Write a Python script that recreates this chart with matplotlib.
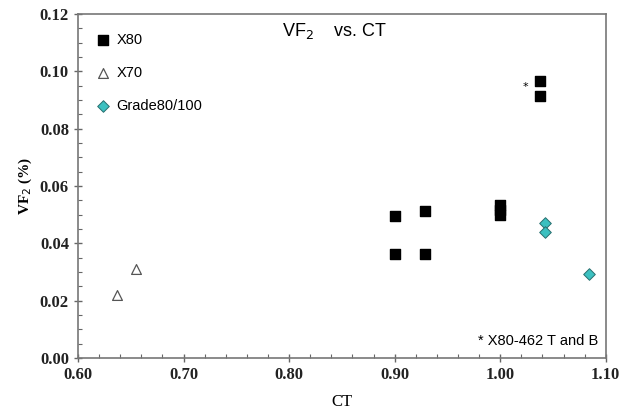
import numpy as np
import matplotlib.pyplot as plt
from matplotlib.ticker import MultipleLocator

# data
x80_ct = [0.90, 0.90, 0.929, 0.929, 1.00, 1.00, 1.00, 1.0375, 1.0375]
x80_vf = [0.0495, 0.0364, 0.0513, 0.0364, 0.0535, 0.0515, 0.0500, 0.0966, 0.0914]
x70_ct = [0.6365, 0.6553]
x70_vf = [0.0220, 0.0309]
g80_ct = [1.042, 1.042, 1.0846]
g80_vf = [0.0472, 0.0441, 0.0292]

fig = plt.figure(figsize=(6.29, 4.12), dpi=100)
ax = fig.add_axes([0.124, 0.131, 0.839, 0.835])

ax.scatter(x80_ct, x80_vf, marker='s', s=55, c='black', label='X80', zorder=3)
ax.scatter(x70_ct, x70_vf, marker='^', s=50, facecolors='white', edgecolors='#555555',
           linewidths=0.9, label='X70', zorder=3)
ax.scatter(g80_ct, g80_vf, marker='D', s=35, c='#3cc0c0', edgecolors='#2a6f6f',
           linewidths=0.7, label='Grade80/100', zorder=3)

ax.set_xlim(0.60, 1.10)
ax.set_ylim(0.0, 0.12)
ax.xaxis.set_major_locator(MultipleLocator(0.1))
ax.xaxis.set_minor_locator(MultipleLocator(0.02))
ax.yaxis.set_major_locator(MultipleLocator(0.02))
ax.yaxis.set_minor_locator(MultipleLocator(0.005))
ax.xaxis.set_major_formatter(plt.FormatStrFormatter('%.2f'))
ax.yaxis.set_major_formatter(plt.FormatStrFormatter('%.2f'))

for s in ax.spines.values():
    s.set_color('#777777')
    s.set_linewidth(1.2)
ax.tick_params(which='major', direction='inout', length=6, color='#666666', width=1)
ax.tick_params(which='minor', direction='in', length=3, color='#666666', width=0.8)
for lab in ax.get_xticklabels() + ax.get_yticklabels():
    lab.set_family('Liberation Serif')
    lab.set_fontweight('bold')
    lab.set_fontsize(12)
    lab.set_color('#222222')

ax.set_xlabel('CT', family='Liberation Serif', fontsize=12, labelpad=8)
ax.set_ylabel('VF$_2$ (%)', family='Liberation Serif', fontweight='bold', fontsize=11)

ax.text(0.487, 0.952, 'VF$_2$    vs. CT', transform=ax.transAxes, fontsize=13,
        family='Liberation Sans', ha='center', va='center')
ax.text(0.985, 0.05, '* X80-462 T and B', transform=ax.transAxes, fontsize=10.5,
        family='Liberation Sans', ha='right', va='center')
ax.text(1.0235, 0.0945, '*', fontsize=8, ha='center', va='center')

leg = ax.legend(loc='upper left', bbox_to_anchor=(0.012, 0.975), frameon=False,
                labelspacing=1.3, handlelength=1.2, handletextpad=0.3, borderaxespad=0.3,
                prop={'family': 'Liberation Sans', 'size': 10.5})

fig.savefig('out.png')
